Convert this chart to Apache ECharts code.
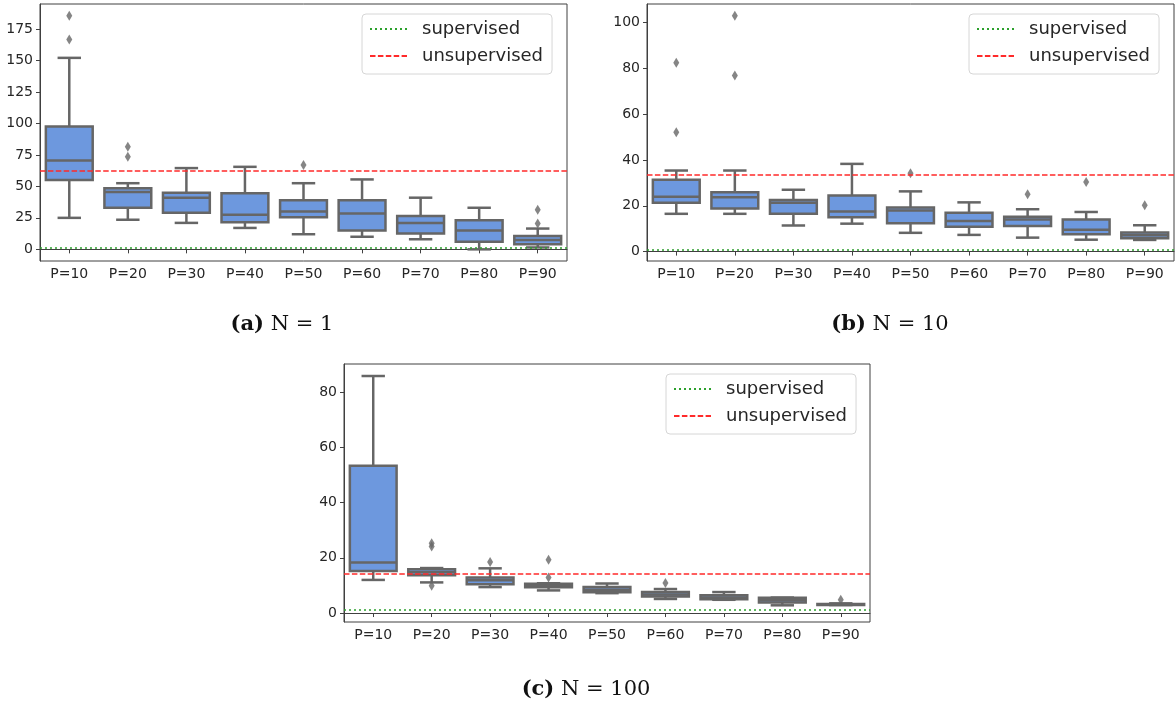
<!DOCTYPE html>
<html>
<head>
<meta charset="utf-8">
<script src="https://cdn.jsdelivr.net/npm/echarts@6/dist/echarts.min.js"></script>
<style>
    html, body { margin: 0; padding: 0; background: #fff; }
    #chart { width: 1175px; height: 705px; }
</style>
</head>
<body>
<div id="chart"></div>
<script>
    // categories shared by all three panels
    const categories = ['P=10', 'P=20', 'P=30', 'P=40', 'P=50', 'P=60', 'P=70', 'P=80', 'P=90']

    // box rows: [lower whisker, q1, median, q3, upper whisker]
    const boxN1 = [
        [25, 55, 70.5, 97.5, 152],
        [23.5, 33, 45.5, 48.5, 52.5],
        [21, 29, 41, 45, 64.5],
        [17, 21.5, 27.5, 44.5, 65.5],
        [12, 25.5, 30, 39, 52.5],
        [10, 15, 28.5, 39, 55.5],
        [8, 12.5, 21, 26.5, 41],
        [0, 6, 15, 23, 33],
        [1.5, 4, 7.5, 10.5, 16.5]
    ]
    const outliersN1 = [['P=10', 185.5], ['P=10', 166.5], ['P=20', 81.5], ['P=20', 73.5],
        ['P=50', 67], ['P=90', 31.5], ['P=90', 20.5]]

    const boxN10 = [
        [16.5, 21.3, 24, 31.4, 35.4],
        [16.5, 18.8, 23.7, 25.9, 35.4],
        [11.4, 16.5, 21.3, 22.5, 27],
        [12.2, 15, 17.5, 24.5, 38.3],
        [8.2, 12.4, 18, 19.3, 26.3],
        [7.3, 10.9, 13.4, 17, 21.5],
        [6.1, 11.2, 14, 15.2, 18.5],
        [5.2, 7.6, 9.5, 14, 17.3],
        [5.1, 5.8, 7.1, 8.3, 11.5]
    ]
    const outliersN10 = [['P=10', 82.4], ['P=10', 52.1], ['P=20', 103], ['P=20', 76.9],
        ['P=50', 34.2], ['P=70', 25], ['P=80', 30.4], ['P=90', 20.2]]

    const boxN100 = [
        [12, 15.2, 18.3, 53.4, 85.9],
        [11.1, 13.7, 14.8, 15.9, 16.3],
        [9.4, 10.4, 11.9, 12.9, 16.2],
        [8.2, 9.3, 10, 10.6, 10.8],
        [7.2, 7.5, 8.4, 9.4, 10.7],
        [5.1, 6.0, 6.7, 7.6, 8.7],
        [4.8, 5.0, 5.6, 6.4, 7.6],
        [2.8, 3.8, 4.6, 5.5, 5.6],
        [2.9, 2.9, 3.1, 3.3, 3.5]
    ]
    const outliersN100 = [['P=20', 25.3], ['P=20', 24.1], ['P=20', 9.9], ['P=30', 18.5],
        ['P=40', 19.3], ['P=40', 12.9], ['P=60', 10.9], ['P=90', 4.8]]

    const supervisedLevel = [1, 1, 1.2]
    const unsupervisedLevel = [62, 33.5, 14.2]

    const yTicksN1 = [0, 25, 50, 75, 100, 125, 150, 175]
    const yTicksN10 = [0, 20, 40, 60, 80, 100]
    const yTicksN100 = [0, 20, 40, 60, 80]

    const captions = ['{b|(a)} N = 1', '{b|(b)} N = 10', '{b|(c)} N = 100']

    const BOX = '#6d98de'
    const EDGE = '#666666'
    const FRAME = '#404040'
    const GREEN = '#2ca02c'
    const RED = '#ff2a2a'
    const CLEAR = 'rgba(0,0,0,0)'

    const panels = [
        { box: boxN1, out: outliersN1, ticks: yTicksN1, min: -9.25, max: 194.75,
            grid: { left: 40, top: 4, width: 527, height: 257 },
            legend: { left: 362, top: 14 }, caption: [282, 325] },
        { box: boxN10, out: outliersN10, ticks: yTicksN10, min: -4.1, max: 108.1,
            grid: { left: 647, top: 4, width: 527, height: 257 },
            legend: { left: 969, top: 14 }, caption: [890, 325] },
        { box: boxN100, out: outliersN100, ticks: yTicksN100, min: -3.25, max: 90.25,
            grid: { left: 344, top: 364, width: 526, height: 258 },
            legend: { left: 666, top: 374 }, caption: [586, 690] }
    ]

    function renderBox (params, api) {
        const i = api.value(0)
        const lo = api.coord([i, api.value(1)])
        const q1 = api.coord([i, api.value(2)])
        const md = api.coord([i, api.value(3)])
        const q3 = api.coord([i, api.value(4)])
        const hi = api.coord([i, api.value(5)])
        const w = api.size([1, 0])[0] * 0.8
        const cap = w / 2
        const cx = md[0]
        const line = { stroke: EDGE, lineWidth: 2.5 }
        return {
            type: 'group',
            children: [
                { type: 'line', shape: { x1: cx, y1: hi[1], x2: cx, y2: q3[1] }, style: line },
                { type: 'line', shape: { x1: cx, y1: q1[1], x2: cx, y2: lo[1] }, style: line },
                { type: 'line', shape: { x1: cx - cap / 2, y1: hi[1], x2: cx + cap / 2, y2: hi[1] }, style: line },
                { type: 'line', shape: { x1: cx - cap / 2, y1: lo[1], x2: cx + cap / 2, y2: lo[1] }, style: line },
                { type: 'rect', shape: { x: cx - w / 2, y: q3[1], width: w, height: q1[1] - q3[1] },
                    style: { fill: BOX, stroke: EDGE, lineWidth: 2.5 } },
                { type: 'line', shape: { x1: cx - w / 2, y1: md[1], x2: cx + w / 2, y2: md[1] }, style: line }
            ]
        }
    }

    const labelFont = { fontFamily: 'DejaVu Sans', fontSize: 14, color: '#262626' }
    const dotted = [2, 3]
    const dashed = [5.5, 2.4]

    const grid = []
    const xAxis = []
    const yAxis = []
    const series = []
    const legend = []
    const graphic = []

    panels.forEach((p, k) => {
        grid.push(Object.assign({ show: true, borderColor: FRAME, borderWidth: 1, backgroundColor: '#fff' }, p.grid))
        xAxis.push({
            type: 'category',
            gridIndex: k,
            data: categories,
            boundaryGap: true,
            axisLine: { show: true, lineStyle: { color: FRAME, width: 1 } },
            axisTick: { show: true, alignWithLabel: true, length: 4, lineStyle: { color: FRAME } },
            axisLabel: Object.assign({ margin: 6 }, labelFont),
            splitLine: { show: false }
        })
        yAxis.push({
            type: 'value',
            gridIndex: k,
            min: p.min,
            max: p.max,
            axisLine: { show: true, lineStyle: { color: FRAME, width: 1 } },
            axisTick: { show: true, length: 4, lineStyle: { color: FRAME }, customValues: p.ticks },
            axisLabel: Object.assign({ margin: 7, customValues: p.ticks }, labelFont),
            splitLine: { show: false }
        })
        series.push({
            type: 'custom',
            xAxisIndex: k,
            yAxisIndex: k,
            renderItem: renderBox,
            encode: { x: 0, y: [1, 2, 3, 4, 5] },
            data: p.box.map((d, i) => [i].concat(d)),
            z: 3
        })
        series.push({
            type: 'scatter',
            xAxisIndex: k,
            yAxisIndex: k,
            symbol: 'diamond',
            symbolSize: [6, 10],
            itemStyle: { color: EDGE },
            data: p.out,
            z: 4
        })
        series.push({
            name: 'supervised',
            type: 'line',
            xAxisIndex: k,
            yAxisIndex: k,
            symbol: 'none',
            data: [],
            lineStyle: { color: GREEN, width: 1.6, type: dotted },
            itemStyle: { color: CLEAR, borderWidth: 0 },
            markLine: {
                silent: true,
                symbol: 'none',
                label: { show: false },
                lineStyle: { color: GREEN, width: 1.6, type: dotted },
                data: [{ yAxis: supervisedLevel[k] }]
            },
            z: 2
        })
        series.push({
            name: 'unsupervised',
            type: 'line',
            xAxisIndex: k,
            yAxisIndex: k,
            symbol: 'none',
            data: [],
            lineStyle: { color: RED, width: 1.5, type: dashed },
            itemStyle: { color: CLEAR, borderWidth: 0 },
            markLine: {
                silent: true,
                symbol: 'none',
                label: { show: false },
                lineStyle: { color: RED, width: 1.5, type: dashed },
                data: [{ yAxis: unsupervisedLevel[k] }]
            },
            z: 2
        })
        legend.push({
            left: p.legend.left,
            top: p.legend.top,
            orient: 'vertical',
            data: ['supervised', 'unsupervised'],
            itemWidth: 37,
            itemHeight: 14,
            itemGap: 9,
            padding: [6, 9, 9, 7],
            borderColor: '#d6d6d6',
            borderWidth: 1,
            borderRadius: 4,
            backgroundColor: 'rgba(255,255,255,0.8)',
            selectedMode: false,
            itemStyle: { color: CLEAR, borderWidth: 0 },
            textStyle: { fontFamily: 'DejaVu Sans', fontSize: 18, color: '#262626', padding: [0, 0, 0, 10] }
        })
        graphic.push({
            type: 'text',
            x: p.caption[0],
            y: p.caption[1],
            style: {
                text: captions[k],
                fontFamily: 'DejaVu Serif',
                fontSize: 21,
                fill: '#111',
                align: 'center',
                verticalAlign: 'middle',
                rich: { b: { fontFamily: 'DejaVu Serif', fontSize: 21, fontWeight: 'bold', fill: '#111' } }
            }
        })
    })

    const chart = echarts.init(document.getElementById('chart'))
    chart.setOption({
        animation: false,
        backgroundColor: '#fff',
        grid,
        xAxis,
        yAxis,
        series,
        legend,
        graphic
    })
</script>
</body>
</html>
